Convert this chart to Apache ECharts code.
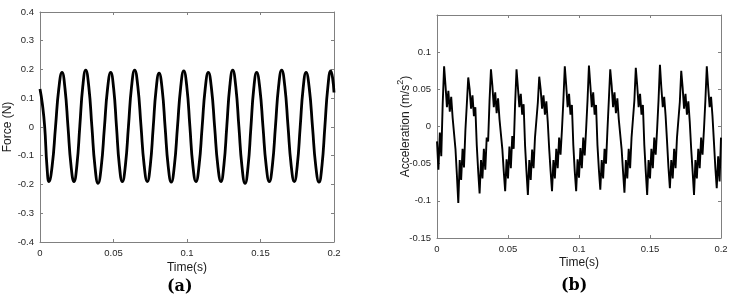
<!DOCTYPE html>
<html><head><meta charset="utf-8">
<script src="https://cdn.jsdelivr.net/npm/echarts@6/dist/echarts.min.js"></script>
<style>html,body{margin:0;padding:0;background:#fff}#c{width:733px;height:304px}</style>
</head><body><div id="c"></div>
<script>
// ---- data ----
const timeTicks = [0, 0.05, 0.1, 0.15, 0.2];
const forceTicks = [-0.4, -0.3, -0.2, -0.1, 0, 0.1, 0.2, 0.3, 0.4];
const accTicks = [-0.15, -0.1, -0.05, 0, 0.05, 0.1, 0.15];

// Force (N): key points (time in ms, value in N)
const forceTimeMs = [0,1.6,3.2,4.7,6.1,8.3,10.55,12.8,15.0,17.0,19.05,21.1,23.1,25.1,27.1,29.1,31.1,33.2,35.3,37.4,39.5,41.65,43.8,45.95,48.1,50.1,52.05,54.0,56.0,58.1,60.2,62.3,64.4,66.55,68.7,70.85,73.0,75.0,77.0,79.0,81.0,83.1,85.15,87.2,89.3,91.4,93.55,95.7,97.8,99.9,101.95,104.0,106.1,108.2,110.3,112.4,114.5,116.65,118.8,120.95,123.1,125.1,127.1,129.1,131.1,133.2,135.3,137.4,139.5,141.5,143.45,145.4,147.4,149.55,151.7,153.85,156.0,158.1,160.2,162.3,164.4,166.55,168.7,170.85,173.0,175.0,177.0,179.0,181.0,183.2,185.4,187.6,189.8,191.8,193.8,195.8,197.8,199.0,200.0];
const forceValues = [0.132,0.08,0,-0.134,-0.19,-0.134,0,0.134,0.19,0.134,0,-0.134,-0.19,-0.133,0.004,0.141,0.198,0.140,0.001,-0.138,-0.196,-0.139,-0.003,0.133,0.19,0.134,0,-0.134,-0.19,-0.133,0.004,0.141,0.198,0.141,0.004,-0.133,-0.19,-0.135,-0.002,0.132,0.187,0.132,-0.003,-0.136,-0.192,-0.135,0.002,0.138,0.195,0.139,0.003,-0.134,-0.19,-0.134,0,0.134,0.19,0.134,0,-0.134,-0.19,-0.133,0.004,0.141,0.198,0.140,0.001,-0.138,-0.196,-0.139,-0.003,0.133,0.19,0.134,0,-0.134,-0.19,-0.133,0.004,0.141,0.198,0.141,0.004,-0.133,-0.19,-0.134,0,0.134,0.19,0.134,-0.001,-0.136,-0.192,-0.135,0.002,0.138,0.195,0.172,0.12];

// Acceleration (m/s^2): sampled every 1 ms from 0 to 200 ms
const accStepMs = 1;
const accValues = [
-0.02,-0.058,-0.008,-0.04,0.03,0.081,
0.055,0.026,0.048,0.02,0.04,0.012,0.01,-0.03,-0.065,-0.103,
-0.045,-0.072,-0.03,-0.055,-0.005,0.03,0.066,
0.05,0.024,0.042,0.014,0.026,-0.025,-0.06,-0.09,
-0.045,-0.07,-0.03,-0.058,-0.015,-0.02,0.035,0.077,
0.055,0.026,0.046,0.018,0.038,0.01,0.008,-0.03,-0.06,-0.087,
-0.044,-0.07,-0.027,-0.056,-0.013,-0.03,0.03,0.077,
0.052,0.026,0.044,0.016,0.03,-0.025,-0.06,-0.092,
-0.045,-0.072,-0.031,-0.056,-0.015,-0.015,0.032,0.067,
0.05,0.024,0.042,0.016,0.034,0.006,-0.03,-0.06,-0.087,
-0.045,-0.07,-0.03,-0.056,-0.015,-0.038,-0.004,0.035,0.081,
0.055,0.026,0.044,0.016,0.029,-0.025,-0.06,-0.087,
-0.044,-0.069,-0.029,-0.056,-0.015,-0.039,-0.004,0.035,0.082,
0.055,0.026,0.046,0.016,0.029,-0.025,-0.058,-0.085,
-0.045,-0.07,-0.03,-0.05,-0.006,0.035,0.077,
0.055,0.026,0.046,0.018,0.038,0.01,0.008,-0.03,-0.06,-0.089,
-0.045,-0.07,-0.03,-0.056,-0.015,-0.015,0.035,0.079,
0.055,0.026,0.044,0.016,0.029,-0.025,-0.06,-0.092,
-0.045,-0.07,-0.03,-0.056,-0.015,-0.038,-0.004,0.035,0.083,
0.052,0.026,0.04,0.014,-0.02,-0.055,-0.083,
-0.045,-0.07,-0.03,-0.056,-0.015,-0.015,0.033,0.075,
0.052,0.024,0.044,0.016,0.034,0.006,-0.03,-0.06,-0.092,
-0.045,-0.07,-0.03,-0.056,-0.015,-0.038,-0.004,0.035,0.081,
0.052,0.026,0.04,0.014,-0.02,-0.055,-0.083,
-0.04,-0.074,-0.015];

// ---- build ----
const forceData = forceTimeMs.map((t, i) => [t / 1000, forceValues[i]]);
const accData = accValues.map((v, i) => [i * accStepMs / 1000, v]);

const axisColor = '#808080';
const labelColor = '#262626';
const sans = 'Liberation Sans, Arial, sans-serif';

function fmt(v) { return String(Math.round(v * 1000) / 1000); }

function xAxisFor(grid, top, name, nameGap) {
  return {
    type: 'value', gridIndex: grid, position: top ? 'top' : 'bottom',
    min: timeTicks[0], max: timeTicks[timeTicks.length - 1], interval: timeTicks[1] - timeTicks[0],
    axisLine: { show: true, onZero: false, lineStyle: { color: axisColor, width: 1 } },
    axisTick: { show: true, inside: true, length: 3, lineStyle: { color: axisColor } },
    axisLabel: { show: !top, color: labelColor, fontSize: 9.5, fontFamily: sans, margin: 6, formatter: fmt },
    splitLine: { show: false },
    name: top ? '' : name, nameLocation: 'middle', nameGap: nameGap, nameMoveOverlap: false,
    nameTextStyle: { color: '#1a1a1a', fontSize: 12, fontFamily: sans }
  };
}
function yAxisFor(grid, right, ticks, name, nameGap, hideMax) {
  const maxV = ticks[ticks.length - 1];
  return {
    type: 'value', gridIndex: grid, position: right ? 'right' : 'left',
    min: ticks[0], max: maxV, interval: ticks[1] - ticks[0],
    axisLine: { show: true, onZero: false, lineStyle: { color: axisColor, width: 1 } },
    axisTick: { show: true, inside: true, length: 3, lineStyle: { color: axisColor } },
    axisLabel: { show: !right, color: labelColor, fontSize: 9.5, fontFamily: sans, margin: 6,
      formatter: v => (hideMax && Math.abs(v - maxV) < 1e-6) ? '' : fmt(v) },
    splitLine: { show: false },
    name: right ? '' : name, nameLocation: 'middle', nameGap: nameGap, nameRotate: 90, nameMoveOverlap: false,
    nameTextStyle: { color: '#1a1a1a', fontSize: 12, fontFamily: sans,
      rich: {
        n: { fontSize: 12, fontFamily: sans, color: '#1a1a1a', lineHeight: 16, verticalAlign: 'bottom' },
        s: { fontSize: 9, fontFamily: sans, color: '#1a1a1a', lineHeight: 16, verticalAlign: 'top' }
      } }
  };
}

const chart = echarts.init(document.getElementById('c'), null, { renderer: 'canvas' });
chart.setOption({
  backgroundColor: '#ffffff',
  animation: false,
  grid: [
    { left: 40, top: 12, width: 294, height: 230 },
    { left: 437, top: 15, width: 284, height: 223 }
  ],
  xAxis: [
    xAxisFor(0, false, 'Time(s)', 20),
    xAxisFor(0, true, '', 0),
    xAxisFor(1, false, 'Time(s)', 19),
    xAxisFor(1, true, '', 0)
  ],
  yAxis: [
    yAxisFor(0, false, forceTicks, 'Force (N)', 26, false),
    yAxisFor(0, true, forceTicks, '', 0, false),
    yAxisFor(1, false, accTicks, '{n|Acceleration (m/s}{s|2}{n|)}', 25, true),
    yAxisFor(1, true, accTicks, '', 0, false)
  ],
  series: [
    { type: 'line', xAxisIndex: 0, yAxisIndex: 0, data: forceData, smooth: 0.5,
      showSymbol: false, lineStyle: { color: '#000', width: 2.8 }, z: 5 },
    { type: 'line', xAxisIndex: 2, yAxisIndex: 2, data: accData, smooth: false,
      showSymbol: false, lineStyle: { color: '#000', width: 1.9 }, z: 5 }
  ],
  graphic: [
    { type: 'text', left: 167, top: 279,
      style: { text: '(a)', font: 'bold 16px "DejaVu Serif", serif', fill: '#000' } },
    { type: 'text', left: 561, top: 278,
      style: { text: '(b)', font: 'bold 16px "DejaVu Serif", serif', fill: '#000' } }
  ]
});
</script></body></html>
